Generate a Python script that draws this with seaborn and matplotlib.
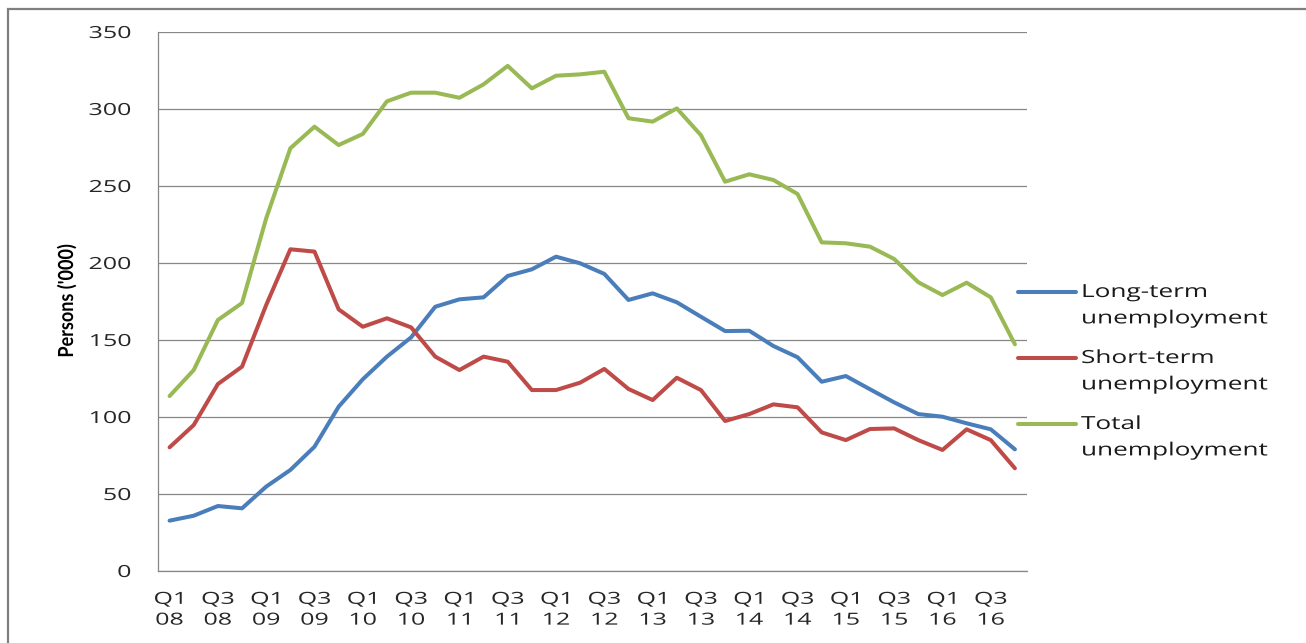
import matplotlib
matplotlib.use("Agg")
import matplotlib.pyplot as plt
import seaborn as sns
import numpy as np
import pandas as pd
from matplotlib.lines import Line2D
from matplotlib.patches import Rectangle
from matplotlib.patheffects import AbstractPathEffect
from matplotlib.transforms import Affine2D

# quarters Q1 2008 .. Q4 2016
years = ['08', '09', '10', '11', '12', '13', '14', '15', '16']
quarters = [f'Q{q} {y}' for y in years for q in range(1, 5)]

long_term = [32.7, 35.9, 42.2, 40.7, 54.8, 65.6, 80.7, 106.7, 124.5, 139.2,
             151.7, 171.6, 176.4, 177.7, 191.6, 195.9, 204.1, 199.8, 192.9, 176.0,
             180.3, 174.5, 165.1, 155.8, 156.0, 146.1, 138.8, 122.9, 126.6, 118.0,
             109.5, 101.9, 100.2, 95.9, 92.0, 79.0]
short_term = [80.3, 94.8, 121.4, 132.7, 172.7, 208.9, 207.4, 169.9, 158.6, 164.1,
              158.2, 139.2, 130.5, 139.2, 135.9, 117.5, 117.5, 122.3, 131.2, 118.2,
              111.0, 125.5, 117.5, 97.4, 101.9, 108.2, 106.3, 90.0, 85.0, 92.2,
              92.6, 85.0, 78.6, 92.0, 85.0, 66.7]
total = [113.6, 130.5, 163.0, 174.0, 229.0, 274.5, 288.5, 276.6, 283.8, 305.0,
         310.6, 310.6, 307.3, 316.0, 328.0, 313.4, 321.6, 322.5, 324.2, 294.0,
         291.8, 300.4, 283.0, 252.8, 257.6, 253.9, 244.8, 213.4, 212.8, 210.6,
         202.6, 187.5, 179.2, 187.2, 177.7, 147.2]

series_names = ['Long-term\nunemployment', 'Short-term\nunemployment', 'Total\nunemployment']
colors = ['#4A7EBB', '#BE4B48', '#98B954']


class Stretch(AbstractPathEffect):
    """Scale glyphs of a text line (the source picture is stretched sideways)."""

    def __init__(self, sx=1.0, sy=1.0, anchor='left'):
        super().__init__()
        self.sx, self.sy, self.anchor = sx, sy, anchor

    def draw_path(self, renderer, gc, tpath, affine, rgbFace=None):
        ext = tpath.get_extents()
        cx = {'left': 0.0, 'center': (ext.x0 + ext.x1) / 2, 'right': ext.x1}[self.anchor]
        pre = Affine2D().translate(-cx, 0).scale(self.sx, self.sy).translate(cx, 0)
        renderer.draw_path(gc, tpath, pre + affine, rgbFace)


sns.set_style('white')
plt.rcParams['font.family'] = ['Open Sans', 'DejaVu Sans']

n = len(quarters)
df = pd.DataFrame({
    'idx': np.tile(np.arange(n), 3),
    'value': long_term + short_term + total,
    'series': np.repeat(series_names, n),
})

W, H = 1306, 643
fig = plt.figure(figsize=(W / 100, H / 100), dpi=100)
ax = fig.add_axes([157.5 / W, 1 - 571 / H, (1027 - 157.5) / W, (571 - 32) / H])

sns.lineplot(data=df, x='idx', y='value', hue='series', hue_order=series_names,
             palette=colors, linewidth=2.9, legend=False, ax=ax)

grid_c = '#878787'
ax.set_xlim(-0.5, n - 0.5)
ax.set_ylim(0, 350)
ax.set_yticks(np.arange(0, 351, 50))
ax.yaxis.grid(True, color=grid_c, linewidth=0.9)
ax.set_axisbelow(True)
for s in ['top', 'right']:
    ax.spines[s].set_visible(False)
for s in ['left', 'bottom']:
    ax.spines[s].set_color(grid_c)
    ax.spines[s].set_linewidth(0.9)

# labels every second quarter, tick marks between categories
ax.set_xticks(np.arange(0, n, 2))
ax.set_xticklabels([q.replace(' ', '\n') for q in quarters[::2]], fontsize=12,
                   linespacing=1.4, color='#262626')
ax.set_xticks(np.arange(-0.5, n, 1), minor=True)
ax.tick_params(axis='x', which='major', length=0, pad=15)
ax.tick_params(axis='x', which='minor', length=4, width=0.9, color=grid_c, direction='out')
ax.tick_params(axis='y', length=7, width=0.9, color=grid_c, pad=12, labelsize=12,
               labelcolor='#262626')
ax.set_xlabel('')
ax.set_ylabel('')
for t in ax.get_xticklabels():
    t.set_path_effects([Stretch(sx=1.5, anchor='center')])
for t in ax.get_yticklabels():
    t.set_path_effects([Stretch(sx=1.5, anchor='right')])

yl_txt = fig.text(67 / W, 1 - 301 / H, "Persons ('000)", rotation=90, ha='center',
                  va='center', fontsize=13, fontweight='bold',
                  family=['Lato', 'DejaVu Sans'], color='black')
yl_txt.set_path_effects([Stretch(sy=1.15)])

# legend, handle aligned with first text line
for k, (name, c) in enumerate(zip(series_names, colors)):
    yl = 1 - (292 + 66 * k) / H
    fig.add_artist(Line2D([1018 / W, 1076 / W], [yl, yl], color=c, linewidth=2.9,
                          transform=fig.transFigure))
    t = fig.text(1081 / W, yl + 9 / H, name, ha='left', va='top', fontsize=13,
                 linespacing=1.6, color='#1a1a1a')
    t.set_path_effects([Stretch(sx=1.45)])

# chart frame
fig.add_artist(Rectangle((8 / W, -0.1), 1.2, 1 - 9 / H + 0.1, transform=fig.transFigure,
                         fill=False, edgecolor='#7f7f7f', linewidth=1.6, clip_on=False))

fig.savefig('out.png', dpi=100)
